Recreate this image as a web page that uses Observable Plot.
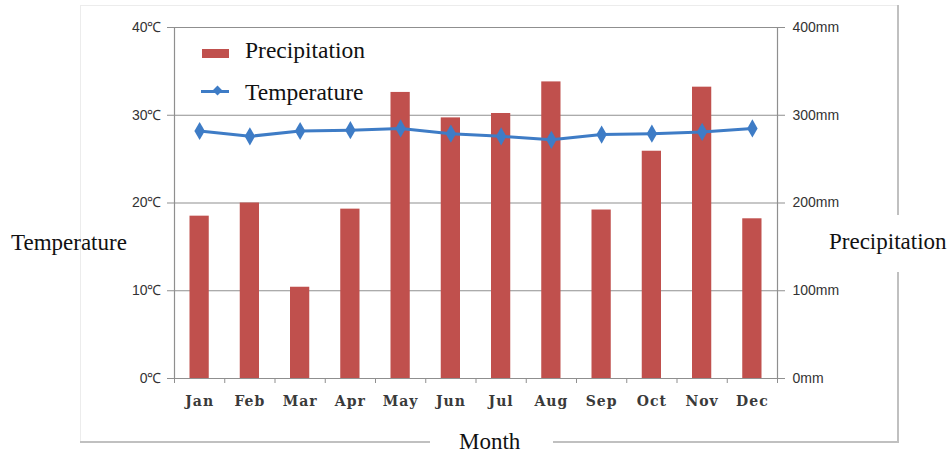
<!DOCTYPE html>
<html><head><meta charset="utf-8">
<script src="https://cdn.jsdelivr.net/npm/d3@7"></script>
<script src="https://cdn.jsdelivr.net/npm/@observablehq/plot@0.6"></script>
<style>
body{margin:0;background:#fff;}
#wrap{position:relative;width:952px;height:453px;overflow:hidden;font-family:"Liberation Serif","Times New Roman",serif;background:#fff;}
#wrap svg{position:absolute;left:0;top:0;}
#wrap svg g[aria-label="x-axis tick label"] text{letter-spacing:1px;}
.lbl{position:absolute;font-size:23px;color:#111;white-space:nowrap;line-height:1;}
.ln{position:absolute;background:#c0c0c0;}
.fl{position:absolute;background:#ececec;}
</style></head><body><div id="wrap"></div>
<script>
const months = ["Jan","Feb","Mar","Apr","May","Jun","Jul","Aug","Sep","Oct","Nov","Dec"];
const precipitation = [185, 200, 104, 193, 326, 297, 302, 338, 192, 259, 332, 182];
const temperature = [28.2, 27.6, 28.2, 28.3, 28.5, 27.9, 27.6, 27.2, 27.8, 27.9, 28.1, 28.5];
const tempTicks = [0, 10, 20, 30, 40];
const precipTicks = [0, 100, 200, 300, 400];

const data = months.map((m, i) => ({month: m, i, p: precipitation[i], t: temperature[i]}));
const red = "#C0504D";
const blue = "#3E7CC6";
const gray = "#8f8f8f";
const tickFont = {fontFamily: "Liberation Sans, Arial, sans-serif", fontSize: 14, fill: "#333"};

const chart = Plot.plot({
  width: 952, height: 453,
  marginLeft: 174, marginRight: 175, marginTop: 27, marginBottom: 75,
  x: {type: "linear", domain: [0, 12], axis: null},
  y: {domain: [0, 40], axis: null},
  marks: [
    Plot.ruleY(tempTicks, {stroke: gray, strokeWidth: 1.2}),
    Plot.ruleX([0, 12], {stroke: gray, strokeWidth: 1.2}),
    Plot.axisY(tempTicks, {anchor: "left", tickSize: 7, tickPadding: 6, stroke: gray,
      tickFormat: d => d + "℃", ...tickFont}),
    Plot.axisY(tempTicks, {anchor: "right", tickSize: 7, tickPadding: 8, stroke: gray,
      tickFormat: d => precipTicks[tempTicks.indexOf(d)] + "mm", ...tickFont}),
    Plot.axisX(d3.range(13), {anchor: "bottom", tickSize: 5, stroke: gray, tickFormat: () => ""}),
    Plot.axisX(d3.range(12).map(i => i + 0.5), {anchor: "bottom", tickSize: 0, tickPadding: 18,
      tickFormat: d => months[Math.floor(d)], fontFamily: "DejaVu Serif, serif",
      fontSize: 14, fontWeight: "bold", fill: "#3a3a3a"}),
    Plot.rectY(data, {x1: d => d.i, x2: d => d.i + 1, y: d => d.p / 10, fill: red,
      insetLeft: 15.5, insetRight: 15.5}),
    Plot.line(data, {x: d => d.i + 0.5, y: d => d.t, stroke: blue, strokeWidth: 3, curve: "linear"}),
    Plot.dot(data, {x: d => d.i + 0.5, y: d => d.t, symbol: "diamond", fill: blue, r: 5.5})
  ]
});

const wrap = document.getElementById("wrap");
function add(cls, css, text) {
  const el = document.createElement("div");
  el.className = cls;
  el.style.cssText = css;
  if (text) el.textContent = text;
  wrap.appendChild(el);
  return el;
}
// outer frame
add("fl", "left:80px;top:5px;width:818px;height:1px;");
add("fl", "left:80px;top:5px;width:1px;height:437px;");
add("ln", "left:80px;top:441px;width:350px;height:2px;");
add("ln", "left:553px;top:441px;width:346px;height:2px;");
add("ln", "left:897px;top:5px;width:2px;height:210px;");
add("ln", "left:897px;top:272px;width:2px;height:170px;");
wrap.appendChild(chart);
// axis titles
add("lbl", "left:11px;top:231px;", "Temperature");
add("lbl", "left:829px;top:230px;", "Precipitation");
add("lbl", "left:459px;top:430px;", "Month");
// legend
add("", "position:absolute;left:202px;top:49px;width:27px;height:9px;background:" + red + ";");
add("lbl", "left:245px;top:39px;font-size:23.5px;", "Precipitation");
add("", "position:absolute;left:201px;top:90px;width:28px;height:3px;background:" + blue + ";");
add("", "position:absolute;left:214px;top:87px;width:7px;height:7px;background:" + blue + ";transform:rotate(45deg);");
add("lbl", "left:245px;top:81px;font-size:23.5px;", "Temperature");
</script>
</body></html>
